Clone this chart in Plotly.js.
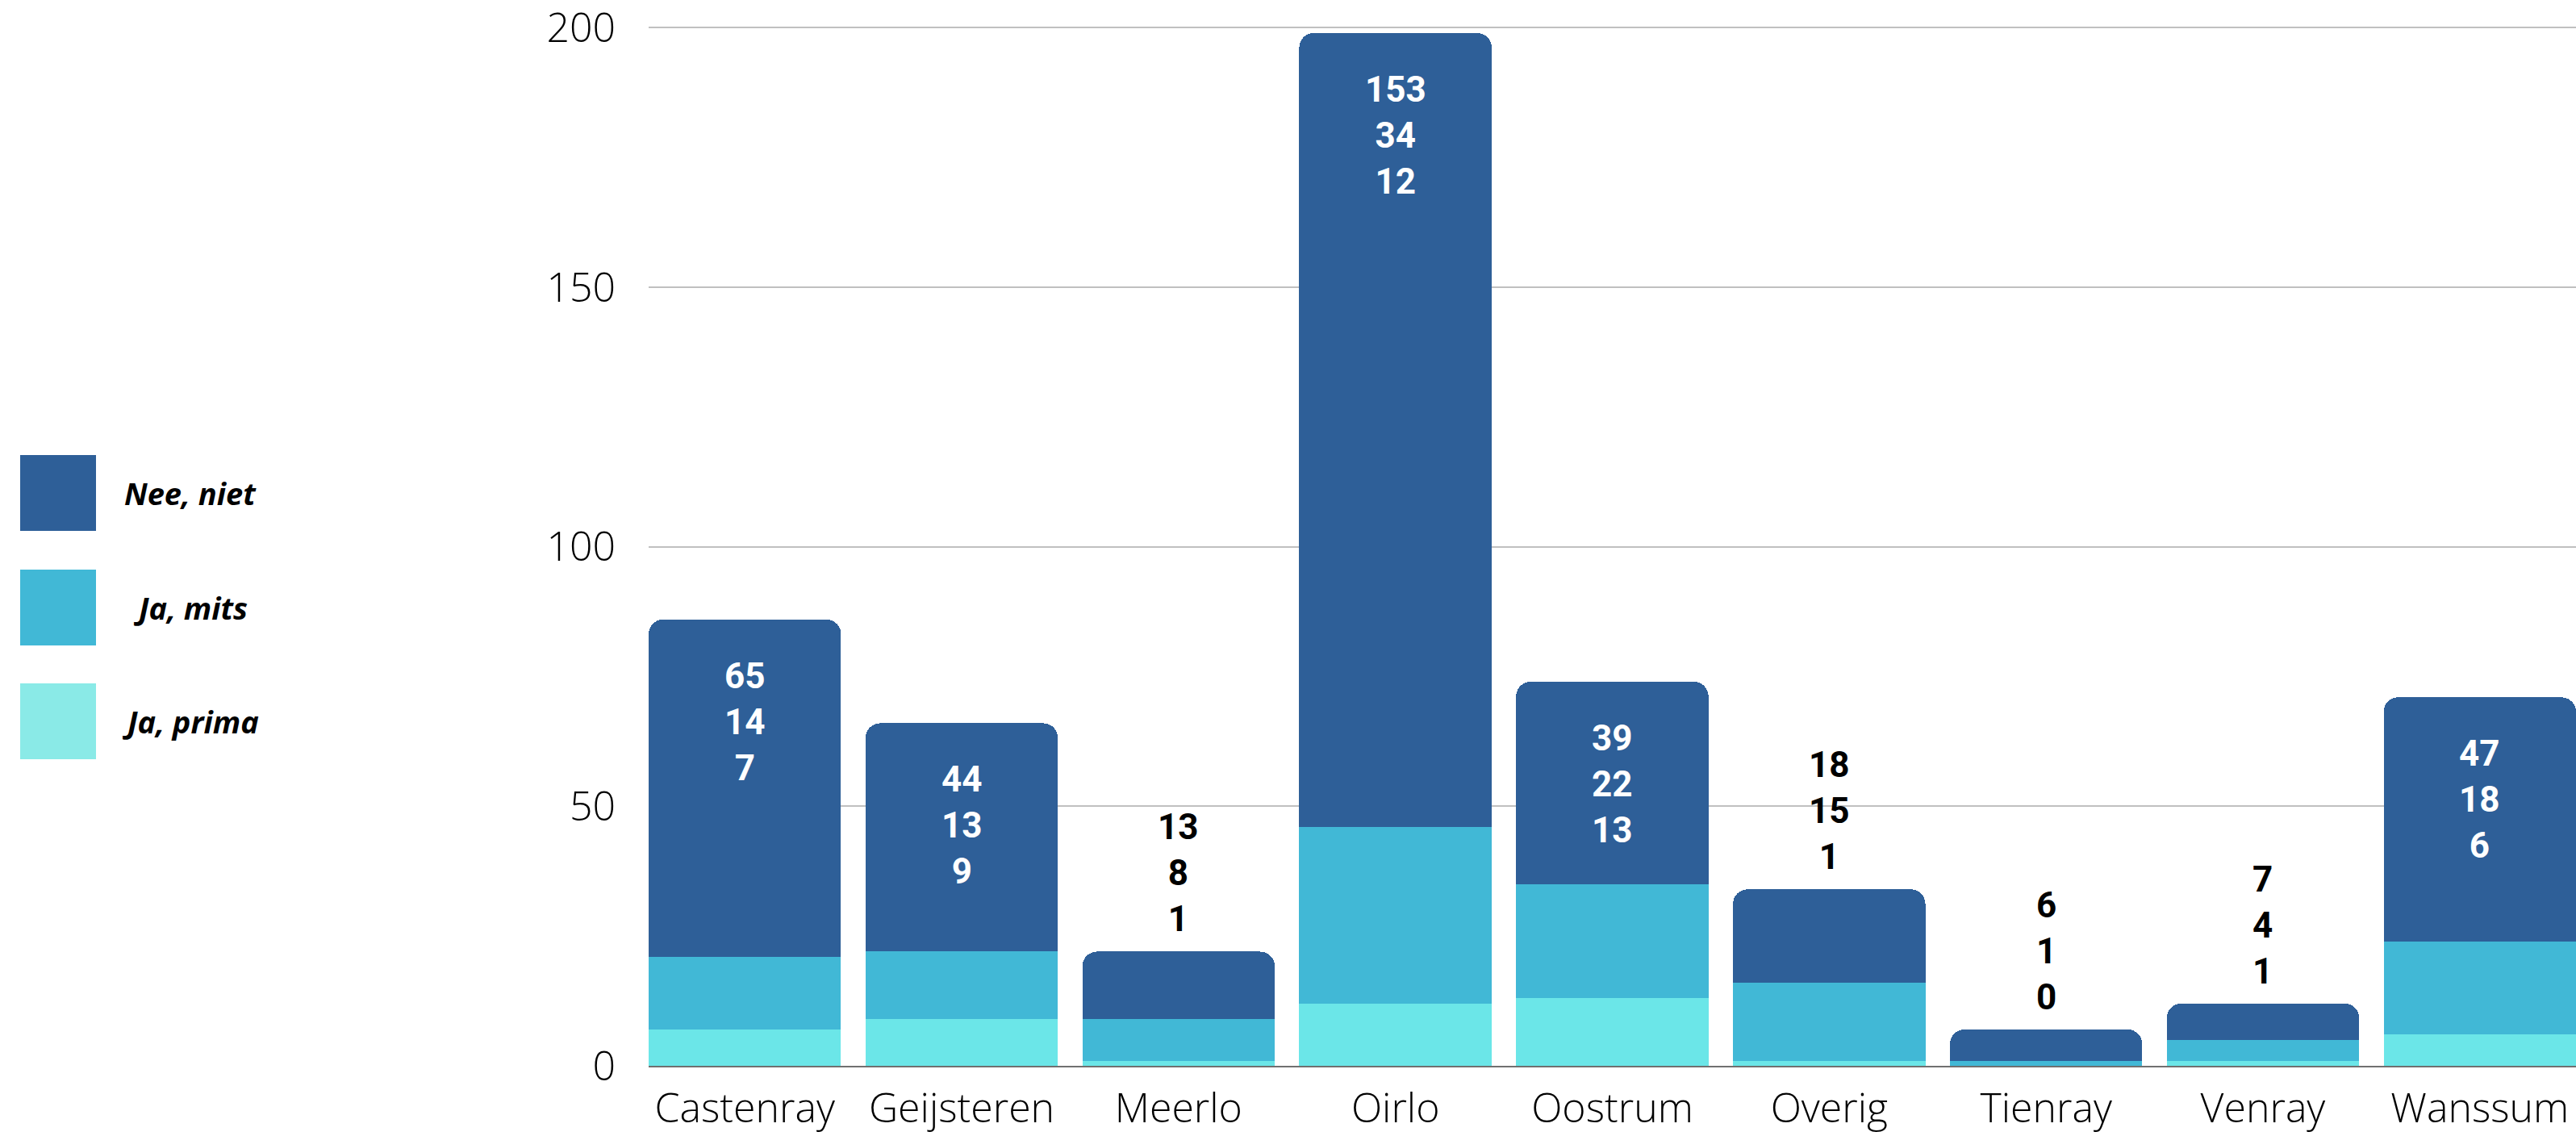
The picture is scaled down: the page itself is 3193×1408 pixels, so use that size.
<!DOCTYPE html>
<html>
<head>
<meta charset="utf-8">
<script src="https://cdn.plot.ly/plotly-3.0.1.min.js"></script>
<style>
html,body{margin:0;padding:0;background:#fff;}
#chart{width:3193px;height:1408px;}
</style>
</head>
<body>
<div id="chart"></div>
<script>
// ---- data ----
const categories = ["Castenray","Geijsteren","Meerlo","Oirlo","Oostrum","Overig","Tienray","Venray","Wanssum"];
const neeNiet  = [65, 44, 13, 153, 39, 18, 6, 7, 47];
const jaMits   = [14, 13, 8, 34, 22, 15, 1, 4, 18];
const jaPrima  = [7, 9, 1, 12, 13, 1, 0, 1, 6];
const seriesNames = ["Nee, niet", "Ja, mits", "Ja, prima"];
const yTicks = [0, 50, 100, 150, 200];

// ---- style ----
const colNee = "#2E5F98", colMits = "#41B8D6", colPrima = "#6BE6E8", colPrimaLegend = "#8AEAE7";
const W = 3193, H = 1408;
const M = {l: 804, r: 0, t: 28, b: 87};
const plotW = W - M.l - M.r, plotH = H - M.t - M.b;
const barFrac = 0.887;

const traces = [
  {type:"bar", name:seriesNames[2], x:categories, y:jaPrima, marker:{color:colPrima, line:{width:0}}, hoverinfo:"x+y+name"},
  {type:"bar", name:seriesNames[1], x:categories, y:jaMits,  marker:{color:colMits, line:{width:0}}, hoverinfo:"x+y+name"},
  {type:"bar", name:seriesNames[0], x:categories, y:neeNiet, marker:{color:colNee, line:{width:0}}, hoverinfo:"x+y+name"}
];

const annotations = [];
categories.forEach((c, i) => {
  const total = neeNiet[i] + jaMits[i] + jaPrima[i];
  const inside = total > 40;
  annotations.push({
    x: c, y: total, xref: "x", yref: "y",
    text: neeNiet[i] + "<br>" + jaMits[i] + "<br>" + jaPrima[i],
    showarrow: false,
    yanchor: inside ? "top" : "bottom",
    yshift: inside ? -42 : 12,
    font: {family: "Roboto, 'Liberation Sans', sans-serif", size: 44, weight: 700, color: inside ? "#ffffff" : "#000000"},
    align: "center"
  });
});

// custom legend (left side)
const px2x = px => (px - M.l) / plotW;
const py2y = py => (H - M.b - py) / plotH;
const legendTops = [564, 706, 847];
const legendColors = [colNee, colMits, colPrimaLegend];
const shapes = [];
seriesNames.forEach((n, k) => {
  const top = legendTops[k];
  shapes.push({type:"rect", xref:"paper", yref:"paper",
    x0:px2x(25), x1:px2x(119), y0:py2y(top+94), y1:py2y(top),
    fillcolor:legendColors[k], line:{width:0}, layer:"above"});
  annotations.push({xref:"paper", yref:"paper", x:px2x(236), y:py2y(top+47),
    xanchor:"center", yanchor:"middle", showarrow:false, text:n,
    font:{family:"'Open Sans', sans-serif", size:38, weight:700, style:"italic", color:"#000"}});
});

const layout = {
  width: W, height: H,
  margin: M,
  paper_bgcolor: "#fff", plot_bgcolor: "#fff",
  barmode: "stack",
  bargap: 1 - barFrac,
  barcornerradius: 18,
  showlegend: false,
  xaxis: {
    type: "category",
    range: [-barFrac/2, categories.length - 1 + barFrac/2],
    showgrid: false, zeroline: false,
    showline: true, linecolor: "#707070", linewidth: 2,
    ticks: "", ticklabelstandoff: 8,
    ticklabeloverflow: "allow",
    tickfont: {family: "'Open Sans', sans-serif", size: 50, weight: 300, color: "#000"},
    fixedrange: true
  },
  yaxis: {
    range: [0, 201],
    tickvals: yTicks, ticktext: yTicks.map(String),
    showgrid: true, gridcolor: "#C0C0C0", gridwidth: 2,
    zeroline: false, showline: false,
    ticks: "", ticklabelstandoff: 40,
    ticklabeloverflow: "allow",
    tickfont: {family: "'Open Sans', sans-serif", size: 50, weight: 300, color: "#000"},
    fixedrange: true
  },
  annotations: annotations,
  shapes: shapes
};

Plotly.newPlot("chart", traces, layout, {displayModeBar: false, staticPlot: true});
</script>
</body>
</html>
